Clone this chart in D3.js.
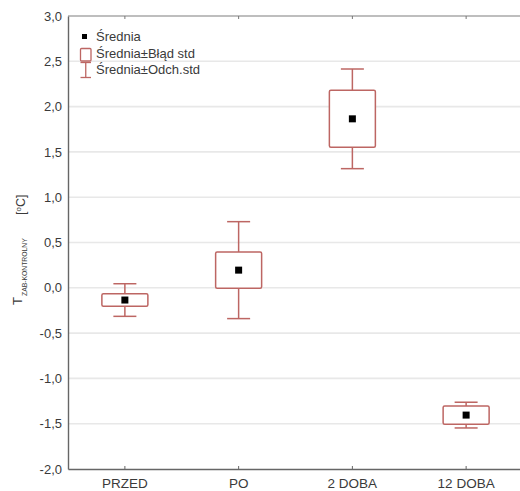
<!DOCTYPE html>
<html>
<head>
<meta charset="utf-8">
<script src="https://cdn.jsdelivr.net/npm/d3@7"></script>
<style>
  body { margin: 0; background: #fff; }
  text { font-family: "Liberation Sans", Arial, sans-serif; fill: #3a3a3a; }
</style>
</head>
<body>
<svg width="520" height="491"></svg>
<script>
const categories = ['PRZED', 'PO', '2 DOBA', '12 DOBA'];
const means = [-0.135, 0.195, 1.865, -1.405];
const stdErr = [0.068, 0.2, 0.315, 0.1];
const stdDev = [0.18, 0.535, 0.55, 0.142];
const yTicks = [-2, -1.5, -1, -0.5, 0, 0.5, 1, 1.5, 2, 2.5, 3];
const legendLabels = ['Średnia', 'Średnia±Błąd std', 'Średnia±Odch.std'];

const boxColor = '#bd6663';

const data = categories.map((c, i) => ({cat: c, mean: means[i], se: stdErr[i], sd: stdDev[i]}));

const svg = d3.select('svg');
const plotL = 68, plotR = 523, plotT = 16, plotB = 469;

const x = d3.scaleBand().domain(categories).range([plotL, plotR]);
const y = d3.scaleLinear().domain([-2, 3]).range([plotB, plotT]);

const fmt = v => d3.format('.1f')(v).replace('−', '-').replace('.', ',');

// gridlines
svg.append('g').selectAll('line')
  .data(yTicks.filter(t => t > -2 && t < 3))
  .enter().append('line')
  .attr('x1', plotL).attr('x2', plotR)
  .attr('y1', d => y(d)).attr('y2', d => y(d))
  .attr('stroke', '#e8e8e8').attr('stroke-width', 1.6);

// top frame line
svg.append('line')
  .attr('x1', plotL).attr('x2', plotR).attr('y1', plotT).attr('y2', plotT)
  .attr('stroke', '#a8a8a8').attr('stroke-width', 1.5);

// left + bottom axes
const yAxis = svg.append('g').attr('transform', `translate(${plotL},0)`)
  .call(d3.axisLeft(y).tickValues(yTicks).tickFormat(fmt).tickSize(0).tickPadding(6));
yAxis.select('.domain').attr('stroke', '#666').attr('stroke-width', 1.4);
yAxis.selectAll('text').style('font-size', '13px').attr('fill', '#3a3a3a')
  .style('font-family', '"Liberation Sans", Arial, sans-serif');

const xAxis = svg.append('g').attr('transform', `translate(0,${plotB})`)
  .call(d3.axisBottom(x).tickSize(0).tickPadding(9));
xAxis.select('.domain').attr('stroke', '#666').attr('stroke-width', 1.4);
xAxis.selectAll('text').style('font-size', '13.5px').attr('fill', '#3a3a3a')
  .style('font-family', '"Liberation Sans", Arial, sans-serif');

// small inner ticks at category centres (top and bottom)
const cx = d => x(d) + x.bandwidth() / 2;
svg.append('g').selectAll('line').data(categories).enter().append('line')
  .attr('x1', cx).attr('x2', cx).attr('y1', plotB).attr('y2', plotB - 3)
  .attr('stroke', '#666').attr('stroke-width', 1);
svg.append('g').selectAll('line').data(categories).enter().append('line')
  .attr('x1', cx).attr('x2', cx).attr('y1', plotT).attr('y2', plotT + 3)
  .attr('stroke', '#777').attr('stroke-width', 1);

// whiskers (mean ± sd)
const boxW = 46, capW = 23;
const g = svg.append('g').selectAll('g').data(data).enter().append('g');
g.append('line')
  .attr('x1', d => cx(d.cat)).attr('x2', d => cx(d.cat))
  .attr('y1', d => y(d.mean + d.sd)).attr('y2', d => y(d.mean - d.sd))
  .attr('stroke', boxColor).attr('stroke-width', 1.5);
g.append('line')
  .attr('x1', d => cx(d.cat) - capW / 2).attr('x2', d => cx(d.cat) + capW / 2)
  .attr('y1', d => y(d.mean + d.sd)).attr('y2', d => y(d.mean + d.sd))
  .attr('stroke', boxColor).attr('stroke-width', 1.5);
g.append('line')
  .attr('x1', d => cx(d.cat) - capW / 2).attr('x2', d => cx(d.cat) + capW / 2)
  .attr('y1', d => y(d.mean - d.sd)).attr('y2', d => y(d.mean - d.sd))
  .attr('stroke', boxColor).attr('stroke-width', 1.5);
// boxes (mean ± se)
g.append('rect')
  .attr('x', d => cx(d.cat) - boxW / 2).attr('width', boxW)
  .attr('y', d => y(d.mean + d.se)).attr('height', d => y(d.mean - d.se) - y(d.mean + d.se))
  .attr('rx', 1.5)
  .attr('fill', '#fff').attr('stroke', boxColor).attr('stroke-width', 1.5);
// mean squares
g.append('rect')
  .attr('x', d => cx(d.cat) - 3.5).attr('y', d => y(d.mean) - 3.5)
  .attr('width', 7).attr('height', 7).attr('fill', '#000');

// legend
const leg = svg.append('g');
leg.append('rect').attr('x', 82).attr('y', 34).attr('width', 5).attr('height', 5).attr('fill', '#000');
leg.append('rect').attr('x', 80.5).attr('y', 48.5).attr('width', 10.5).attr('height', 12.5)
  .attr('rx', 1).attr('fill', '#fff').attr('stroke', boxColor).attr('stroke-width', 1.3);
leg.append('line').attr('x1', 85.75).attr('x2', 85.75).attr('y1', 62.5).attr('y2', 77.5)
  .attr('stroke', boxColor).attr('stroke-width', 1.3);
leg.append('line').attr('x1', 80.5).attr('x2', 91).attr('y1', 62.5).attr('y2', 62.5)
  .attr('stroke', boxColor).attr('stroke-width', 1.3);
leg.append('line').attr('x1', 80.5).attr('x2', 91).attr('y1', 77.5).attr('y2', 77.5)
  .attr('stroke', boxColor).attr('stroke-width', 1.3);
leg.selectAll('text').data(legendLabels).enter().append('text')
  .attr('x', 96).attr('y', (d, i) => 41 + i * 16.7)
  .style('font-size', '13px')
  .text(d => d);

// y axis title
const yt = svg.append('g').attr('transform', 'translate(22,305) rotate(-90)');
yt.append('text').attr('x', 0).attr('y', 0).style('font-size', '13px').text('T');
yt.append('text').attr('x', 9).attr('y', 5).style('font-size', '6.8px').text('ZAB-KONTROLNY');
const unit = yt.append('text').attr('x', 90).attr('y', 3).style('font-size', '12.5px');
unit.append('tspan').text('[');
unit.append('tspan').attr('dy', -4.5).style('font-size', '8px').text('o');
unit.append('tspan').attr('dy', 4.5).text('C]');
</script>
</body>
</html>
